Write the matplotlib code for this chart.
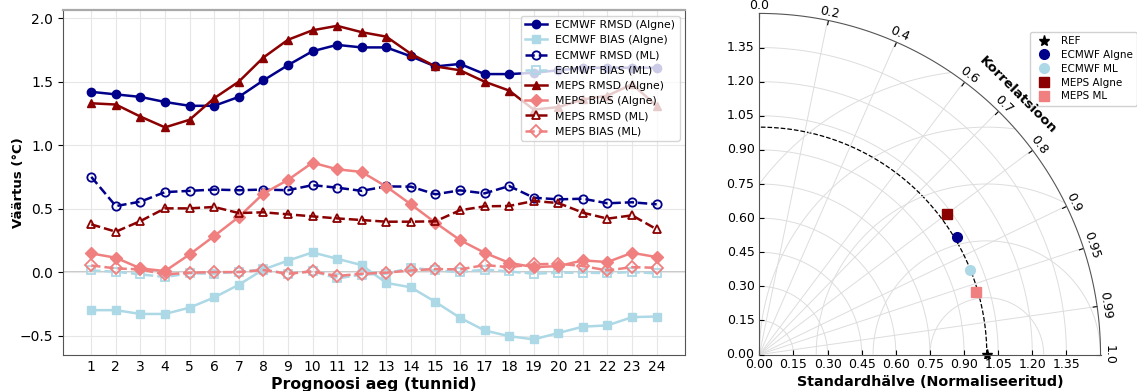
import numpy as np
import matplotlib
matplotlib.use("Agg")
import matplotlib.pyplot as plt
from matplotlib.projections import PolarAxes
import mpl_toolkits.axisartist.floating_axes as FA
import mpl_toolkits.axisartist.grid_finder as GF

# andmed (loetud pildilt)
tunnid = list(range(1, 25))

ecmwf_rmsd = [1.42, 1.40, 1.38, 1.34, 1.31, 1.31, 1.38, 1.51, 1.63, 1.74, 1.79, 1.77,
              1.77, 1.70, 1.62, 1.64, 1.56, 1.56, 1.57, 1.59, 1.61, 1.61, 1.61, 1.61]
ecmwf_bias = [-0.30, -0.30, -0.33, -0.33, -0.28, -0.20, -0.10, 0.02, 0.09, 0.155, 0.105, 0.055,
              -0.085, -0.12, -0.235, -0.36, -0.46, -0.505, -0.53, -0.48, -0.43, -0.42, -0.355, -0.35]
ecmwf_rmsd_ml = [0.75, 0.52, 0.555, 0.63, 0.64, 0.65, 0.645, 0.65, 0.645, 0.685, 0.665, 0.64,
                 0.675, 0.673, 0.613, 0.644, 0.62, 0.678, 0.586, 0.573, 0.578, 0.542, 0.55, 0.534]
ecmwf_bias_ml = [0.013, 0.003, -0.018, -0.039, -0.01, -0.013, 0.003, 0.021, -0.013, 0.008, -0.05, -0.02,
                 -0.013, 0.035, 0.013, 0.0, 0.02, 0.005, -0.013, -0.005, -0.005, -0.008, 0.0, -0.01]
meps_rmsd = [1.33, 1.32, 1.225, 1.14, 1.20, 1.37, 1.50, 1.69, 1.83, 1.905, 1.94, 1.89,
             1.855, 1.72, 1.62, 1.59, 1.50, 1.43, 1.28, 1.30, 1.36, 1.39, 1.48, 1.31]
meps_bias = [0.147, 0.113, 0.029, 0.008, 0.139, 0.284, 0.434, 0.618, 0.726, 0.862, 0.81, 0.789,
             0.674, 0.534, 0.389, 0.252, 0.152, 0.073, 0.039, 0.047, 0.092, 0.079, 0.152, 0.118]
meps_rmsd_ml = [0.376, 0.318, 0.402, 0.502, 0.502, 0.513, 0.465, 0.471, 0.455, 0.439, 0.423, 0.41,
                0.397, 0.397, 0.40, 0.487, 0.518, 0.521, 0.56, 0.544, 0.468, 0.421, 0.447, 0.337]
meps_bias_ml = [0.052, 0.029, 0.021, -0.018, -0.005, 0.0, 0.0, 0.016, -0.013, 0.005, -0.031, -0.013,
                -0.005, 0.013, 0.024, 0.021, 0.055, 0.039, 0.061, 0.066, 0.047, 0.013, 0.039, 0.034]

# Taylori diagramm: normaliseeritud standardhälve ja korrelatsioon
mudelid = ['ECMWF Algne', 'ECMWF ML', 'MEPS Algne', 'MEPS ML']
std_norm = [1.01, 1.00, 1.03, 0.99]
korr = [0.86, 0.928, 0.80, 0.961]

fig = plt.figure(figsize=(11.37, 3.91), dpi=100)

#1. vasak graafik
ax = fig.add_axes([0.0554, 0.092, 0.547, 0.882])

ax.plot(tunnid, ecmwf_rmsd, 'o-', color='darkblue', lw=1.8, ms=6, label='ECMWF RMSD (Algne)')
ax.plot(tunnid, ecmwf_bias, 's-', color='lightblue', lw=1.8, ms=6, label='ECMWF BIAS (Algne)')
ax.plot(tunnid, ecmwf_rmsd_ml, 'o--', color='darkblue', lw=1.8, ms=6, mfc='none', mew=1.3, label='ECMWF RMSD (ML)')
ax.plot(tunnid, ecmwf_bias_ml, 's--', color='lightblue', lw=1.8, ms=6, mfc='none', mew=1.3, label='ECMWF BIAS (ML)')
ax.plot(tunnid, meps_rmsd, '^-', color='darkred', lw=1.8, ms=6, label='MEPS RMSD (Algne)')
ax.plot(tunnid, meps_bias, 'D-', color='lightcoral', lw=1.8, ms=6, label='MEPS BIAS (Algne)')
ax.plot(tunnid, meps_rmsd_ml, '^--', color='darkred', lw=1.8, ms=6, mfc='none', mew=1.3, label='MEPS RMSD (ML)')
ax.plot(tunnid, meps_bias_ml, 'D--', color='lightcoral', lw=1.8, ms=6, mfc='none', mew=1.3, label='MEPS BIAS (ML)')

ax.axhline(0, color='grey', alpha=0.5, lw=1.2, zorder=0)
ax.set_xticks(tunnid)
ax.tick_params(axis='x', length=0, labelsize=10)
ax.tick_params(axis='y', labelsize=10)
ax.grid(True, color='#e6e6e6', lw=0.8)
ax.set_axisbelow(True)
for s in ax.spines.values():
    s.set_color('#555555')
ax.spines['top'].set_color('#aaaaaa')
ax.spines['top'].set_linewidth(1.6)
ax.set_xlabel('Prognoosi aeg (tunnid)', fontsize=11.3, fontweight='bold', labelpad=2)
ax.set_ylabel('Väärtus (°C)', fontsize=9.5, fontweight='bold')
ax.yaxis.set_label_coords(-0.061, 0.5)
ax.legend(loc='upper right', fontsize=7.8, framealpha=0.8, borderpad=0.4, labelspacing=0.48)

#2. Taylori diagramm
tr = PolarAxes.PolarTransform(apply_theta_transforms=False)
rlocs = [0.0, 0.2, 0.4, 0.6, 0.7, 0.8, 0.9, 0.95, 0.99, 1.0]
tlocs = np.arccos(rlocs)
slocs = np.round(np.arange(0, 1.5, 0.15), 2)
gh = FA.GridHelperCurveLinear(tr, extremes=(0, np.pi / 2, 0, 1.5),
                              grid_locator1=GF.FixedLocator(tlocs),
                              tick_formatter1=GF.DictFormatter(dict(zip(tlocs, map(str, rlocs)))),
                              grid_locator2=GF.FixedLocator(slocs),
                              tick_formatter2=GF.DictFormatter({s: '%.2f' % s for s in slocs}))
tax = fig.add_axes([0.664, 0.0844, 0.3078, 0.89], axes_class=FA.FloatingAxes, grid_helper=gh)

tax.axis["top"].set_axis_direction("bottom")
tax.axis["top"].toggle(ticklabels=True, label=False)
tax.axis["top"].major_ticklabels.set_axis_direction("top")
tax.axis["left"].set_axis_direction("bottom")
tax.axis["left"].label.set_text("Standardhälve (Normaliseeritud)")
tax.axis["left"].label.set_fontweight('bold')
tax.axis["left"].label.set_fontsize(10.3)
tax.axis["right"].set_axis_direction("top")
tax.axis["right"].toggle(ticklabels=True)
tax.axis["right"].major_ticklabels.set_axis_direction("left")
tax.axis["bottom"].set_visible(False)
for k in ["top", "left", "right"]:
    tax.axis[k].major_ticklabels.set_fontsize(9)
    tax.axis[k].line.set_color('#555555')
tax.grid(True, color='#dddddd', lw=0.7)

aux = tax.get_aux_axes(tr)
t = np.linspace(0, np.pi / 2, 200)
aux.plot(t, np.ones_like(t), 'k--', lw=0.9)

rs, ts = np.meshgrid(np.linspace(0, 1.5, 200), np.linspace(0, np.pi / 2, 200))
rms = np.sqrt(1 + rs ** 2 - 2 * rs * np.cos(ts))
aux.contour(ts, rs, rms, levels=[0.25, 0.5, 0.75, 1.0, 1.25], colors='#dddddd', linewidths=0.7)

h = [aux.plot(0, 1, '*', color='black', ms=8, ls='', label='REF')[0]]
stiilid = {'ECMWF Algne': ('o', 'darkblue'), 'ECMWF ML': ('o', 'lightblue'),
           'MEPS Algne': ('s', 'darkred'), 'MEPS ML': ('s', 'lightcoral')}
for m, s, c in zip(mudelid, std_norm, korr):
    mk, col = stiilid[m]
    h.append(aux.plot(np.arccos(c), s, mk, color=col, ms=7, ls='', label=m)[0])
fig.legend(h, ['REF'] + mudelid, loc='upper right', bbox_to_anchor=(1.0044, 0.931), fontsize=7.5,
           framealpha=0.9, handletextpad=0.6, labelspacing=0.36)

fig.text(0.8955, 0.757, 'Korrelatsioon', rotation=-45, ha='center', va='center',
         rotation_mode='anchor', fontweight='bold', fontsize=9.7, zorder=10)

fig.savefig('out.png', dpi=100)
